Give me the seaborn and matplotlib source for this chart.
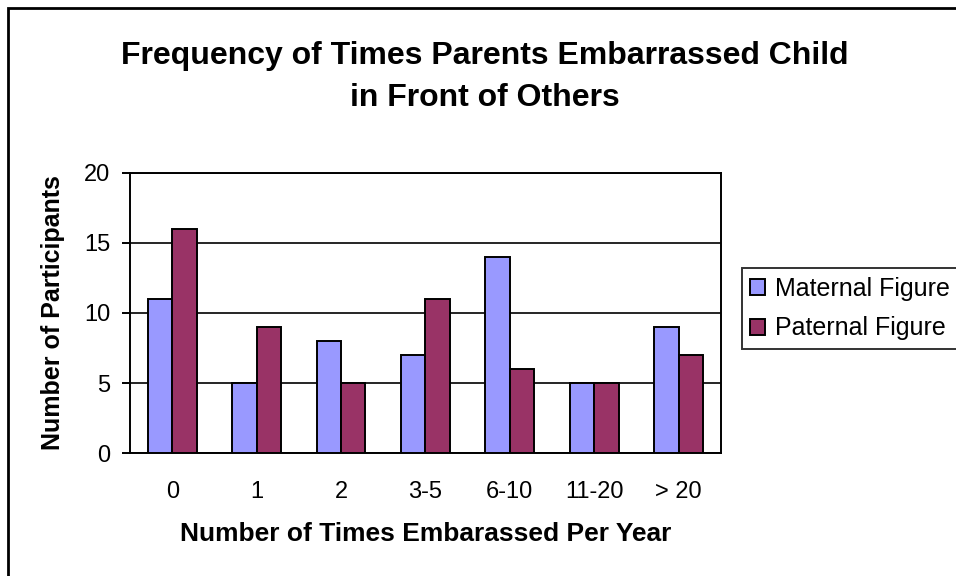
import pandas as pd
import matplotlib.pyplot as plt
import seaborn as sns
from matplotlib.patches import Rectangle

categories = ['0', '1', '2', '3-5', '6-10', '11-20', '> 20']
maternal = [11, 5, 8, 7, 14, 5, 9]
paternal = [16, 9, 5, 11, 6, 5, 7]
series_names = ['Maternal Figure', 'Paternal Figure']
y_ticks = [0, 5, 10, 15, 20]


def build_frame():
    df = pd.DataFrame({
        'category': categories * 2,
        'value': maternal + paternal,
        'series': [series_names[0]] * len(categories) + [series_names[1]] * len(categories),
    })
    return df


def main():
    sns.set_style('white')
    plt.rcParams['font.family'] = ['Liberation Sans', 'DejaVu Sans']
    plt.rcParams['text.color'] = 'black'
    plt.rcParams['axes.labelcolor'] = 'black'
    plt.rcParams['xtick.color'] = 'black'
    plt.rcParams['ytick.color'] = 'black'

    df = build_frame()

    fig = plt.figure(figsize=(9.56, 5.76), dpi=100)
    ax = fig.add_axes([0.136, 0.2135, 0.618, 0.4862])

    # outer chart border (runs off the right and bottom edges)
    fig.patches.append(Rectangle((8 / 956, -0.1), 1.2, 1 - 8 / 576 + 0.1,
                                 transform=fig.transFigure, fill=False,
                                 edgecolor='black', linewidth=2))

    sns.barplot(data=df, x='category', y='value', hue='series',
                palette=['#9999FF', '#993366'], saturation=1, width=0.58,
                edgecolor='black', linewidth=1.4, ax=ax, zorder=3)

    ax.set_ylim(0, 20)
    ax.set_xlim(-0.5, len(categories) - 0.5)
    ax.set_yticks(y_ticks)
    ax.yaxis.grid(True, color='black', linewidth=1.2)
    ax.set_axisbelow(True)
    for s in ax.spines.values():
        s.set_color('black')
        s.set_linewidth(1.4)
        s.set_visible(True)

    ax.set_xticks([i - 0.5 for i in range(1, len(categories) + 1)], minor=True)
    ax.tick_params(axis='x', which='major', length=0, labelsize=17, pad=20)
    ax.tick_params(axis='x', which='minor', length=6, width=1.4, direction='out', color='black')
    ax.tick_params(axis='y', length=6, width=1.4, direction='out', color='black',
                   labelsize=17, left=True, pad=8)

    ax.set_xlabel('Number of Times Embarassed Per Year', fontsize=19, fontweight='bold', labelpad=14)
    ax.set_ylabel('Number of Participants', fontsize=18, fontweight='bold', labelpad=14)

    fig.suptitle('Frequency of Times Parents Embarrassed Child\nin Front of Others',
                 fontsize=23, fontweight='bold', x=0.507, y=0.928, linespacing=1.5)

    leg = ax.legend(loc='upper left', bbox_to_anchor=(1.035, 0.66), fontsize=18,
                    frameon=True, fancybox=False, edgecolor='black',
                    handlelength=0.6, handleheight=0.6, handletextpad=0.4,
                    borderaxespad=0, labelspacing=0.62, borderpad=0.35)
    leg.get_frame().set_linewidth(1.4)

    plt.savefig('out.png', dpi=100)


if __name__ == "__main__":
    main()
